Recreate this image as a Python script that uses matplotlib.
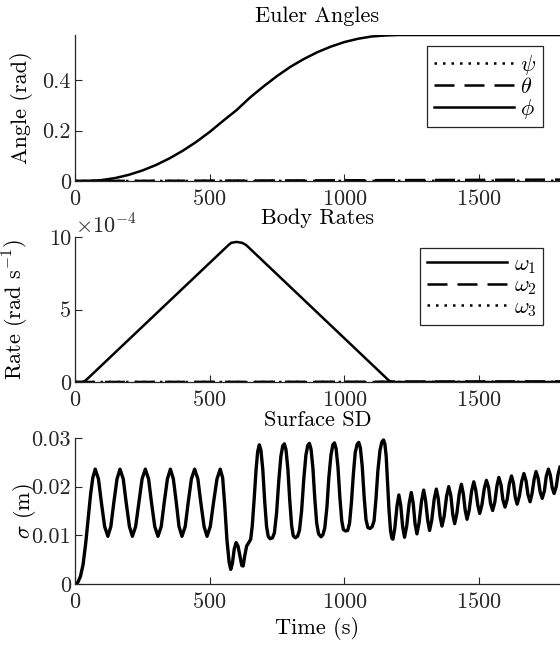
import numpy as np
import matplotlib
matplotlib.use('Agg')
import matplotlib.pyplot as plt
from matplotlib.ticker import FuncFormatter

#----------------------------------------------------------------
#              DATA
#----------------------------------------------------------------
t_euler = [0, 50, 100, 150, 200, 250, 300, 350, 400, 450, 500, 550, 600, 650,
           700, 750, 800, 850, 900, 950, 1000, 1050, 1100, 1150, 1175, 1200, 1800]
phi = [0, 0.0002, 0.0038, 0.0119, 0.0246, 0.0417, 0.0633, 0.0895, 0.1202, 0.1553,
       0.1950, 0.2392, 0.2820, 0.3320, 0.3760, 0.4170, 0.4540, 0.4850, 0.5120,
       0.5340, 0.5520, 0.5650, 0.5740, 0.5780, 0.5790, 0.5800, 0.5800]
t_small = [0, 300, 600, 900, 1200, 1500, 1800]
theta = [0, 0.0008, 0.0016, 0.0025, 0.0035, 0.0045, 0.0055]
psi = [0, 0.0002, 0.0004, 0.0005, 0.0006, 0.0007, 0.0008]

t_rate = [0, 25, 35, 45, 570, 580, 600, 620, 635, 1165, 1175, 1185, 1800]
w1 = [0, 0, 0.05e-4, 0.2e-4, 9.45e-4, 9.6e-4, 9.66e-4, 9.6e-4, 9.45e-4,
      0.1e-4, 0.01e-4, 0, 0]
w2 = [0, 0, 0, 0, 0.01e-4, 0.01e-4, 0.01e-4, 0.01e-4, 0.01e-4, 0.02e-4, 0.03e-4, 0.03e-4, 0.04e-4]
w3 = [0, 0, 0, 0, 0, 0, 0, 0, 0, 0, 0, 0, 0.01e-4]

t_sd = [0, 10, 20, 30, 40, 50, 58, 66, 75,
        87, 98, 110, 122, 133, 144, 156, 167,
        179, 190, 202, 213, 225, 237, 249, 261,
        273, 284, 296, 308, 320, 331, 343, 354,
        365, 376, 386, 397, 409, 420, 432, 444,
        456, 467, 479, 490, 502, 514, 527, 539,
        548, 556, 564, 572, 578, 584, 591, 598, 605, 612, 619, 624, 630, 637,
        645, 652, 658, 665, 672, 678, 684,
        690, 697, 704, 711, 717, 724, 733, 740, 748, 756, 764, 771, 777,
        783, 790, 797, 804, 810, 818, 826, 833, 841, 849, 857, 864, 870,
        876, 883, 890, 897, 904, 913, 920, 927, 935, 942, 950, 957, 963,
        969, 976, 983, 990, 996, 1004, 1012, 1019, 1026, 1033, 1040, 1047, 1053,
        1059, 1066, 1073, 1080, 1087, 1095, 1103, 1110, 1117, 1124, 1132, 1139, 1145,
        1150, 1155, 1160, 1165, 1171, 1176, 1180,
        1187, 1195, 1202, 1209, 1216, 1223,
        1231, 1240, 1248, 1255, 1262, 1269,
        1277, 1286, 1294, 1301, 1309, 1316,
        1324, 1333, 1341, 1348, 1355, 1362,
        1370, 1379, 1387, 1395, 1402, 1409,
        1417, 1426, 1434, 1441, 1448, 1455,
        1463, 1472, 1480, 1487, 1495, 1502,
        1510, 1519, 1527, 1535, 1542, 1550,
        1558, 1566, 1573, 1581, 1588, 1596,
        1604, 1612, 1620, 1627, 1634, 1641,
        1649, 1658, 1666, 1674, 1681, 1689,
        1696, 1704, 1711, 1719, 1726, 1734,
        1742, 1749, 1757, 1764, 1771, 1778,
        1786, 1793, 1800]
sd = [0, 0.0003, 0.0015, 0.004, 0.0085, 0.014, 0.0185, 0.0218, 0.0236,
      0.0216, 0.0167, 0.0118, 0.0098, 0.0118, 0.0167, 0.0216, 0.0236,
      0.0216, 0.0167, 0.0118, 0.0098, 0.0118, 0.0167, 0.0216, 0.0236,
      0.0216, 0.0167, 0.0118, 0.0098, 0.0118, 0.0167, 0.0216, 0.0236,
      0.0216, 0.0167, 0.0118, 0.0098, 0.0118, 0.0167, 0.0216, 0.0236,
      0.0216, 0.0167, 0.0118, 0.0098, 0.0118, 0.0167, 0.0216, 0.0236,
      0.0218, 0.0160, 0.0090, 0.0045, 0.0030, 0.0042, 0.0072, 0.0085, 0.0078, 0.0058, 0.0038, 0.0037, 0.0058, 0.0078,
      0.0085, 0.0092, 0.0120, 0.0175, 0.0235, 0.0272, 0.0286,
      0.0275, 0.0235, 0.0170, 0.0118, 0.0098, 0.0093, 0.0095, 0.0105, 0.0145, 0.0210, 0.0262, 0.0284, 0.0288,
      0.0276, 0.0237, 0.0172, 0.0120, 0.0099, 0.0095, 0.0098, 0.0110, 0.0150, 0.0215, 0.0265, 0.0285, 0.0289,
      0.0277, 0.0238, 0.0175, 0.0125, 0.0103, 0.0097, 0.0101, 0.0115, 0.0158, 0.0218, 0.0265, 0.0286, 0.0290,
      0.0278, 0.0240, 0.0178, 0.0130, 0.0112, 0.0109, 0.0110, 0.0125, 0.0168, 0.0225, 0.0270, 0.0287, 0.0291,
      0.0280, 0.0242, 0.0180, 0.0132, 0.0116, 0.0114, 0.0118, 0.0130, 0.0175, 0.0232, 0.0275, 0.0292, 0.0296,
      0.0288, 0.0262, 0.0210, 0.0155, 0.0110, 0.0094, 0.0092,
      0.0115, 0.0160, 0.0183, 0.0161, 0.0118, 0.0096,
      0.0119, 0.0165, 0.0188, 0.0167, 0.0124, 0.0103,
      0.0126, 0.0170, 0.0193, 0.0172, 0.0131, 0.0110,
      0.0131, 0.0174, 0.0195, 0.0176, 0.0138, 0.0119,
      0.0139, 0.0180, 0.0200, 0.0181, 0.0143, 0.0124,
      0.0144, 0.0185, 0.0205, 0.0186, 0.0152, 0.0133,
      0.0152, 0.0191, 0.0210, 0.0194, 0.0162, 0.0145,
      0.0162, 0.0196, 0.0213, 0.0198, 0.0166, 0.0151,
      0.0168, 0.0202, 0.0219, 0.0204, 0.0173, 0.0158,
      0.0174, 0.0206, 0.0222, 0.0208, 0.0178, 0.0164,
      0.0180, 0.0211, 0.0227, 0.0212, 0.0184, 0.0169,
      0.0185, 0.0215, 0.0231, 0.0217, 0.0190, 0.0176,
      0.0191, 0.0221, 0.0236, 0.0224, 0.0198, 0.0186,
      0.0200, 0.0226, 0.0240]

x_ticks = [0, 500, 1000, 1500]

#----------------------------------------------------------------
#              STYLE
#----------------------------------------------------------------
plt.rcParams['font.family'] = ['cmr10', 'DejaVu Serif']
plt.rcParams['mathtext.fontset'] = 'cm'
plt.rcParams['axes.formatter.use_mathtext'] = True
plt.rcParams['axes.unicode_minus'] = False
fs = 16
ax_col = '#262626'

def style_axis(ax, ylim):
    ax.set_xlim(0, 1800)
    ax.set_ylim(*ylim)
    ax.set_xticks(x_ticks)
    for s in ['top', 'right']:
        ax.spines[s].set_visible(False)
    for s in ['left', 'bottom']:
        ax.spines[s].set_linewidth(0.9)
        ax.spines[s].set_color(ax_col)
    ax.tick_params(direction='in', length=5, width=0.8, labelsize=fs, colors=ax_col)
    ax.tick_params(axis='x', pad=6)
    ax.tick_params(axis='y', pad=3)

def add_legend(ax, handles_order):
    leg = ax.legend(handles=handles_order, loc='upper right', bbox_to_anchor=(0.965, 0.925),
                    fontsize=fs, frameon=True, fancybox=False, handlelength=3.6,
                    handletextpad=0.3, labelspacing=0.0, borderpad=0.3, borderaxespad=0)
    leg.get_frame().set_edgecolor(ax_col)
    leg.get_frame().set_linewidth(0.9)
    leg.get_frame().set_alpha(1)

fig = plt.figure(figsize=(5.6, 6.46), dpi=100)
left, width = 75 / 560, 1 - 75 / 560
lw = 1.8
dash = (8, 4)
dot = (1, 2.4)

# Euler angles
ax1 = fig.add_axes([left, 1 - 181 / 646, width, 146 / 646])
h_psi, = ax1.plot(t_small, psi, color='k', lw=lw, dashes=dot, label=r'$\psi$')
h_theta, = ax1.plot(t_small, theta, color='k', lw=lw, dashes=dash, label=r'$\theta$')
h_phi, = ax1.plot(t_euler, phi, '-', color='k', lw=lw, label=r'$\phi$')
style_axis(ax1, (0, 0.58))
ax1.set_yticks([0, 0.2, 0.4])
ax1.set_yticklabels(['0', '0.2', '0.4'])
ax1.set_title('Euler Angles', fontsize=fs, y=1.0, pad=9)
ax1.set_ylabel('Angle (rad)', fontsize=fs)
ax1.yaxis.set_label_coords(-0.087, 0.5)
add_legend(ax1, [h_psi, h_theta, h_phi])

# Body rates
ax2 = fig.add_axes([left, 1 - 382 / 646, width, 145 / 646])
h_w1, = ax2.plot(t_rate, w1, '-', color='k', lw=lw, label=r'$\omega_1$')
h_w2, = ax2.plot(t_rate, w2, color='k', lw=lw, dashes=dash, label=r'$\omega_2$')
h_w3, = ax2.plot(t_rate, w3, color='k', lw=lw, dashes=dot, label=r'$\omega_3$')
style_axis(ax2, (0, 10e-4))
ax2.set_yticks([0, 5e-4, 10e-4])
ax2.yaxis.set_major_formatter(FuncFormatter(lambda v, p: '%g' % round(v * 1e4, 6)))
ax2.text(0.0, 1.0, r'$\times 10^{-4}$', transform=ax2.transAxes, ha='left', va='bottom',
         fontsize=fs, color=ax_col)
ax2.set_title('Body Rates', fontsize=fs, y=1.0, pad=9)
ax2.set_ylabel(r'Rate (rad s$^{-1}$)', fontsize=fs)
ax2.yaxis.set_label_coords(-0.091, 0.5)
add_legend(ax2, [h_w1, h_w2, h_w3])

# Surface SD
ax3 = fig.add_axes([left, 1 - 584 / 646, width, 146 / 646])
ax3.plot(t_sd, sd, '-', color='k', lw=2.4, solid_joinstyle='round')
style_axis(ax3, (0, 0.03))
ax3.set_yticks([0, 0.01, 0.02, 0.03])
ax3.set_yticklabels(['0', '0.01', '0.02', '0.03'])
ax3.set_title('Surface SD', fontsize=fs, y=1.0, pad=9)
ax3.set_ylabel(r'$\sigma$ (m)', fontsize=fs)
ax3.yaxis.set_label_coords(-0.077, 0.5)
ax3.set_xlabel('Time (s)', fontsize=fs, labelpad=3)

fig.savefig('out.png', dpi=100)
